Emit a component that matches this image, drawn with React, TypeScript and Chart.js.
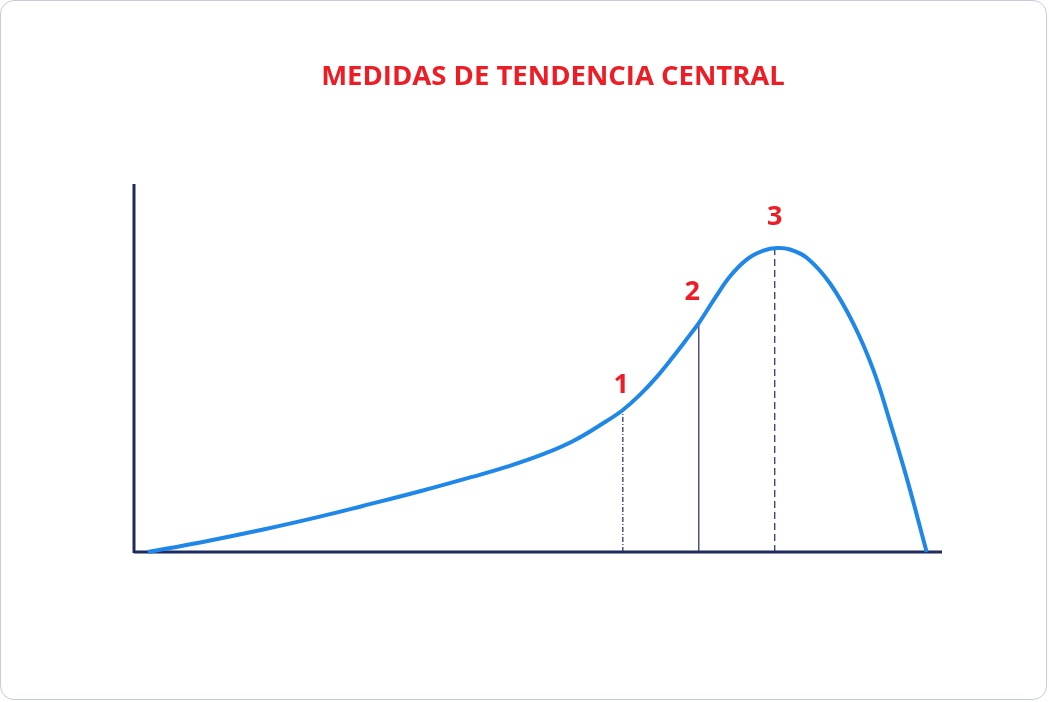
import React, { useEffect, useRef } from "react";
import { Chart, registerables } from "chart.js";

Chart.register(...registerables);

const TITLE = "MEDIDAS DE TENDENCIA CENTRAL";

// Curve (x, y) in arbitrary 0-100 units
const curveX = [1.7, 8.2, 16.0, 23.0, 28.3, 35.4, 42.0, 46.2, 50.3, 54.3, 58.5, 60.5, 62.6, 64.7, 66.7, 68.8, 69.9, 71.9, 73.8, 75.9, 77.9, 79.6, 81.2, 83.3, 86.1, 89.0, 91.5, 93.6, 95.7, 98.1];
const curveY = [0, 2.6, 6.1, 9.6, 12.5, 16.5, 20.5, 23.2, 26.3, 30.1, 35.6, 38.6, 42.7, 47.6, 53.0, 59.0, 62.2, 69.0, 75.0, 79.6, 81.9, 82.6, 82.2, 79.9, 73.1, 62.2, 49.5, 35.1, 19.6, 0];

// Reference (vertical) lines: position and height
const markerLabels = ["1", "2", "3"];
const markerX = [60.5, 69.9, 79.3];
const markerTop = [38.6, 62.2, 82.6];
const markerDash = [[5, 2, 1, 2], [], [7, 4]];
const labelX = [60.3, 69.1, 79.3];
const labelY = [43.2, 68.5, 88.9];

const axisMax = 100;

const NAVY = "#1f2b5e";
const BLUE = "#1f87e8";
const RED = "#ee1c25";

export default function App() {
  const ref = useRef<HTMLCanvasElement | null>(null);

  useEffect(() => {
    document.body.style.margin = "0";
    const canvas = ref.current;
    if (!canvas) return;

    const textPlugin = {
      id: "texts",
      afterDatasetsDraw(chart: any) {
        const { ctx, scales } = chart;
        ctx.save();
        ctx.fillStyle = RED;
        ctx.textAlign = "center";
        ctx.textBaseline = "alphabetic";
        ctx.font = "bold 27.5px 'Open Sans'";
        ctx.fillText(TITLE, 553, 85);
        ctx.font = "bold 27px 'Open Sans'";
        markerLabels.forEach((t, i) => {
          ctx.fillText(t, scales.x.getPixelForValue(labelX[i]), scales.y.getPixelForValue(labelY[i]));
        });
        ctx.restore();
      },
    };

    const datasets: any[] = [
      {
        data: curveX.map((x, i) => ({ x, y: curveY[i] })),
        borderColor: BLUE,
        borderWidth: 4,
        pointRadius: 0,
        tension: 0.4,
        clip: false,
      },
      {
        data: [{ x: 0, y: 0 }, { x: axisMax, y: 0 }],
        borderColor: NAVY,
        borderWidth: 3,
        pointRadius: 0,
        clip: false,
      },
      {
        data: [{ x: 0, y: -0.3 }, { x: 0, y: axisMax }],
        borderColor: NAVY,
        borderWidth: 3,
        pointRadius: 0,
        clip: false,
      },
      ...markerX.map((x, i) => ({
        data: [{ x, y: 0 }, { x, y: markerTop[i] }],
        borderColor: NAVY,
        borderWidth: 1.2,
        borderDash: markerDash[i],
        pointRadius: 0,
        clip: false,
      })),
    ];

    const chart = new Chart(canvas, {
      type: "line",
      data: { datasets },
      options: {
        animation: false,
        responsive: false,
        layout: { padding: { left: 134, right: 107, top: 184, bottom: 150 } },
        scales: {
          x: { type: "linear", min: 0, max: axisMax, display: false },
          y: { type: "linear", min: 0, max: axisMax, display: false },
        },
        plugins: {
          legend: { display: false },
          tooltip: { enabled: false },
          title: { display: false },
        },
      },
      plugins: [textPlugin],
    });
    return () => chart.destroy();
  }, []);

  return (
    <div style={{ position: "fixed", left: 0, top: 0, width: 1049, height: 702, background: "#fff" }}>
      <div
        style={{
          position: "absolute",
          left: 0,
          top: 0,
          width: 1047,
          height: 700,
          border: "1.5px solid #c5cce0",
          borderRadius: 14,
          boxSizing: "border-box",
        }}
      />
      <canvas ref={ref} width={1049} height={702} style={{ position: "absolute", left: 0, top: 0 }} />
    </div>
  );
}
